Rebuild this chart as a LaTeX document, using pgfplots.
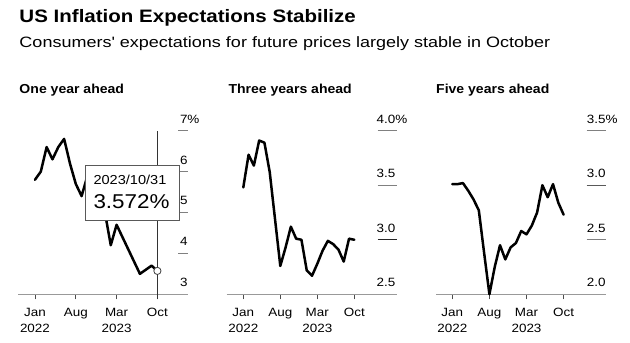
\documentclass[border=0pt]{standalone}
\usepackage{fontspec}
\setmainfont{Liberation Sans}
\newfontfamily\titlefont[FakeStretch=1.14]{Liberation Sans}
\newfontfamily\subfont[FakeStretch=1.2]{Liberation Sans}
\newfontfamily\wide[FakeStretch=1.12]{Liberation Sans}
\newfontfamily\pfont[FakeStretch=1.08]{Liberation Sans}
\usepackage{pgfplots}
\pgfplotsset{compat=1.18}
\usepackage{pgfplotstable}

\pgfplotstableread{
m v
0 5.8
1 6.0
2 6.6
3 6.3
4 6.6
5 6.8
6 6.2
7 5.7
8 5.4
9 5.9
10 5.2
11 5.0
12 5.0
13 4.2
14 4.7
15 4.4
16 4.1
17 3.8
18 3.5
19 3.6
20 3.7
21 3.572
}\oneyear

\pgfplotstableread{
m v
0 3.48
1 3.78
2 3.68
3 3.91
4 3.89
5 3.62
6 3.19
7 2.76
8 2.93
9 3.12
10 3.01
11 3.00
12 2.72
13 2.67
14 2.78
15 2.90
16 2.99
17 2.96
18 2.91
19 2.80
20 3.01
21 3.00
}\threeyear

\pgfplotstableread{
m v
0 3.01
1 3.01
2 3.02
3 2.95
4 2.87
5 2.77
6 2.38
7 2.00
8 2.25
9 2.45
10 2.32
11 2.43
12 2.47
13 2.58
14 2.55
15 2.63
16 2.75
17 3.00
18 2.89
19 3.01
20 2.84
21 2.73
}\fiveyear

\pgfplotsset{
  panel/.style={
    scale only axis,
    width=170pt, height=163.6pt,
    anchor=south west,
    axis x line=bottom, axis y line=right,
    axis line style={-},
    x axis line style={draw=black!40, line width=1pt},
    y axis line style={draw=none},
    xtick align=outside,
    major tick length=5pt,
    xtick style={draw=black!70, line width=0.8pt},
    ytick style={draw=none},
    xtick={0,7,14,21},
    xticklabels={Jan\\2022,Aug,Mar\\2023,Oct},
    xticklabel style={align=center, anchor=north, inner sep=0pt, yshift=-8.5pt,
      font=\fontsize{12}{16.7}\selectfont\wide},
    yticklabel style={anchor=base west, inner sep=0pt, yshift=7.5pt,
      font=\fontsize{12}{14}\selectfont\wide},
    clip=false,
  },
  dataline/.style={black, line width=2.5pt, line join=round, line cap=round},
}

\begin{document}
\begin{tikzpicture}
\path[use as bounding box] (0,0) rectangle (630pt,343pt);

% titles
\node[anchor=base west, inner sep=0pt] at (19.3pt,320.3pt)
  {\fontsize{18}{20}\selectfont\titlefont\bfseries US Inflation Expectations Stabilize};
\node[anchor=base west, inner sep=0pt] at (19.3pt,295.3pt)
  {\fontsize{15}{17}\selectfont\subfont Consumers' expectations for future prices largely stable in October};
\node[anchor=base west, inner sep=0pt] at (19.3pt,249.7pt)
  {\fontsize{13}{15}\selectfont\pfont\bfseries One year ahead};
\node[anchor=base west, inner sep=0pt] at (228.3pt,249.7pt)
  {\fontsize{13}{15}\selectfont\pfont\bfseries Three years ahead};
\node[anchor=base west, inner sep=0pt] at (436pt,249.7pt)
  {\fontsize{13}{15}\selectfont\pfont\bfseries Five years ahead};

% y tick segments (decoration, right-hand side of each panel)
\draw[black!50, line width=1.1pt] (178.3pt,89.6pt) -- (188.3pt,89.6pt);
\draw[black!50, line width=1.1pt] (178.3pt,130.5pt) -- (188.3pt,130.5pt);
\draw[black!50, line width=1.1pt] (178.3pt,171.4pt) -- (188.3pt,171.4pt);
\draw[black!50, line width=1.1pt] (178.3pt,212.3pt) -- (188.3pt,212.3pt);
\draw[black!85, line width=1.1pt] (377.7pt,103.2pt) -- (396.7pt,103.2pt);
\draw[black!50, line width=1.1pt] (377.7pt,157.8pt) -- (396.7pt,157.8pt);
\draw[black!50, line width=1.1pt] (377.7pt,212.3pt) -- (396.7pt,212.3pt);
\draw[black!50, line width=1.1pt] (586.7pt,103.2pt) -- (605.7pt,103.2pt);
\draw[black!65, line width=1.1pt] (586.7pt,157.8pt) -- (605.7pt,157.8pt);
\draw[black!50, line width=1.1pt] (586.7pt,212.3pt) -- (605.7pt,212.3pt);

% panel 1
\begin{axis}[panel, at={(18.3pt,48.7pt)},
  xmin=-2.86, xmax=26.3, ymin=3, ymax=7,
  ytick={3,4,5,6,7}, yticklabels={3,4,5,6,7\%},
  yticklabel style={xshift=-11pt}]
  \addplot[dataline] table[x=m,y=v] {\oneyear};
  \addplot[black!80, line width=0.8pt] coordinates {(21,2.88) (21,7)};
  \addplot[only marks, mark=*, mark size=3.6pt, mark options={fill=white, draw=black!75, line width=0.8pt}] coordinates {(21,3.572)};
\end{axis}

% panel 2
\begin{axis}[panel, at={(226.7pt,48.7pt)},
  xmin=-3.14, xmax=29.02, ymin=2.5, ymax=4.0,
  ytick={2.5,3.0,3.5,4.0}, yticklabels={2.5,3.0,3.5,4.0\%},
  yticklabel style={xshift=-22.8pt}]
  \addplot[dataline] table[x=m,y=v] {\threeyear};
\end{axis}

% panel 3
\begin{axis}[panel, at={(436pt,48.7pt)},
  xmin=-3.08, xmax=29.0, ymin=2.0, ymax=3.5,
  ytick={2.0,2.5,3.0,3.5}, yticklabels={2.0,2.5,3.0,3.5\%},
  yticklabel style={xshift=-21.8pt}]
  \addplot[dataline] table[x=m,y=v] {\fiveyear};
\end{axis}

% tooltip
\draw[black!65, line width=0.8pt, fill=white] (85pt,123pt) rectangle (179pt,178pt);
\node[anchor=base west, inner sep=0pt] at (93.3pt,158pt)
  {\fontsize{13}{15}\selectfont\wide 2023/10/31};
\node[anchor=base west, inner sep=0pt] at (93.3pt,134.7pt)
  {\fontsize{20}{22}\selectfont\wide 3.572\%};
\end{tikzpicture}
\end{document}
